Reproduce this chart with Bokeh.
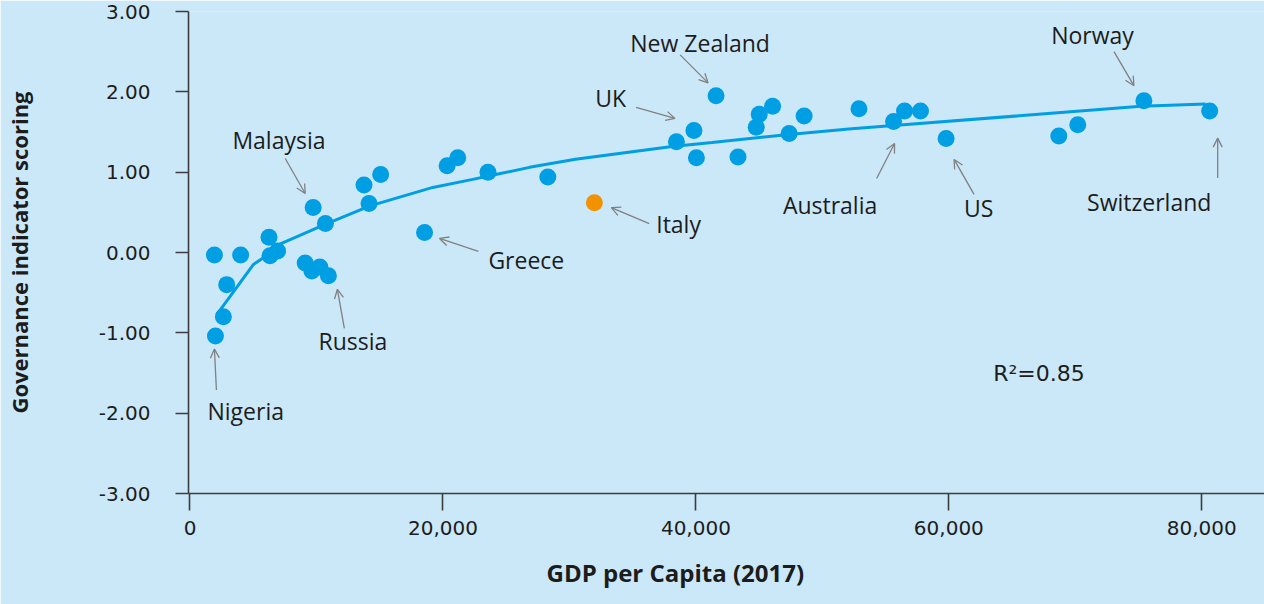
import numpy as np
from bokeh.plotting import figure
from bokeh.models import (Arrow, OpenHead, Label, NumeralTickFormatter, FixedTicker,
                          ColumnDataSource, Range1d, Title)
from bokeh.core.properties import value
from bokeh.embed import file_html
from bokeh.resources import INLINE

# ---------------- data ----------------
gdp = [1932, 4006, 2902, 2641, 2011, 6245, 6324, 6923, 9738, 10708,
       9107, 9635, 10266, 10944, 13759, 15076, 14154, 18546, 20328, 21171,
       23560, 28291, 31974, 38463, 39843, 40040, 41593, 43328, 44771, 45008,
       46064, 47373, 48556, 52893, 55629, 56496, 57758, 59784, 68694, 70192,
       75420, 80624]
gov = [-0.03, -0.03, -0.40, -0.80, -1.04, 0.19, -0.04, 0.02, 0.56, 0.36,
       -0.13, -0.23, -0.18, -0.29, 0.84, 0.97, 0.61, 0.25, 1.08, 1.18,
       1.00, 0.94, 0.62, 1.38, 1.52, 1.18, 1.95, 1.19, 1.56, 1.72,
       1.82, 1.48, 1.70, 1.79, 1.63, 1.76, 1.76, 1.42, 1.45, 1.59,
       1.89, 1.76]
names = ["", "", "", "", "Nigeria", "", "", "", "Malaysia", "",
         "", "", "", "Russia", "", "", "", "Greece", "", "",
         "", "", "Italy", "", "UK", "", "New Zealand", "", "", "",
         "", "", "", "", "Australia", "", "", "US", "", "",
         "Norway", "Switzerland"]

# fitted trend line vertices
trend_x = [2090, 5007, 5953, 7057, 10684, 14232, 19200, 22354, 24168, 26849,
           30476, 38124, 41278, 47349, 52317, 55629, 75183, 80309]
trend_y = [-0.78, -0.15, -0.05, 0.10, 0.35, 0.58, 0.81, 0.91, 0.97, 1.06,
           1.16, 1.32, 1.37, 1.47, 1.54, 1.58, 1.82, 1.85]

x_ticks = [0, 20000, 40000, 60000, 80000]
y_ticks = [-3, -2, -1, 0, 1, 2, 3]
r2_text = "R²=0.85"
x_title = "GDP per Capita (2017)"
y_title = "Governance indicator scoring"
highlight = "Italy"

# ---------------- layout / style ----------------
W, H = 1264, 604
BL, BT, BB, BR = 185, 11, 111, 0
X0, X1 = -118, 84957
Y0, Y1 = -3, 3
sx = (W - BL - BR) / (X1 - X0)
sy = (H - BT - BB) / (Y1 - Y0)

BG = "#cbe8f9"
BLUE = "#009ee2"
ORANGE = "#f39200"
GRAY = "#808080"
INK = "#1c1c1c"

# annotation offsets in pixels relative to the labelled point:
# name: (label dx, dy, arrow tail dx, dy, arrow head dx, dy)
ann = {
    "Nigeria":     (-8, 75, 1, 54, -1, 13),
    "Russia":      (-10, 65.5, 16, 52.5, 9, 13.5),
    "Malaysia":    (-81, -68, -28, -49, -8, -14),
    "Greece":      (64, 28, 54, 19, 15, 6),
    "Italy":       (62, 21, 55, 21, 17, 5),
    "UK":          (-99, -32, -58, -23, -19, -12),
    "New Zealand": (-86, -53, -36, -41, -8, -13),
    "Australia":   (-111, 83, -17, 57, 1, 22),
    "US":          (18, 69.5, 28, 56, 8, 21),
    "Norway":      (-93, -66, -30, -49, -10, -15),
    "Switzerland": (-123, 91, 8, 67, 8, 27),
}

p = figure(width=W, height=H, output_backend="svg", toolbar_location=None,
           x_range=Range1d(X0, X1), y_range=Range1d(Y0, Y1),
           min_border_left=BL, min_border_top=BT, min_border_bottom=BB,
           min_border_right=BR)
p.background_fill_color = BG
p.border_fill_color = BG
p.outline_line_color = None
p.grid.grid_line_color = None

for ax in (p.xaxis[0], p.yaxis[0]):
    ax.axis_line_color = "#3c3c3c"
    ax.axis_line_width = 1.6
    ax.major_tick_line_color = "#3c3c3c"
    ax.major_tick_line_width = 1.6
    ax.major_tick_in = 0
    ax.minor_tick_line_color = None
    ax.major_label_text_font = "DejaVu Sans"
    ax.major_label_text_font_size = "20px"
    ax.major_label_text_color = INK

p.xaxis.ticker = FixedTicker(ticks=x_ticks)
p.xaxis.formatter = NumeralTickFormatter(format="0,0")
p.xaxis.major_tick_out = 17
p.xaxis.major_label_standoff = 10

p.yaxis.ticker = FixedTicker(ticks=y_ticks)
p.yaxis.formatter = NumeralTickFormatter(format="0.00")
p.yaxis.major_tick_out = 13
p.yaxis.major_label_standoff = 25
p.yaxis.axis_label = y_title
p.yaxis.axis_label_text_font = "Open Sans"
p.yaxis.axis_label_text_font_style = "bold"
p.yaxis.axis_label_text_font_size = "22px"
p.yaxis.axis_label_text_color = INK
p.yaxis.axis_label_standoff = 62

p.add_layout(Title(text=x_title, align="left", offset=358, standoff=32,
                   text_font="Open Sans", text_font_style="bold",
                   text_font_size="24px", text_color=INK), "below")

# trend line and points
p.line(trend_x, trend_y, line_color=BLUE, line_width=3)
colors = [ORANGE if n == highlight else BLUE for n in names]
src = ColumnDataSource(dict(x=gdp, y=gov, c=colors))
p.scatter("x", "y", source=src, size=17, fill_color="c", line_color=None)

# annotations
lx, ly, lt = [], [], []
for i, n in enumerate(names):
    if not n:
        continue
    ldx, ldy, tdx, tdy, hdx, hdy = ann[n]
    lx.append(gdp[i] + ldx / sx)
    ly.append(gov[i] - ldy / sy)
    lt.append(n)
    p.add_layout(Arrow(end=OpenHead(size=9, line_color=GRAY, line_width=1.3),
                       x_start=gdp[i] + tdx / sx, y_start=gov[i] - tdy / sy,
                       x_end=gdp[i] + hdx / sx, y_end=gov[i] - hdy / sy,
                       line_color=GRAY, line_width=1.3))
p.text(lx, ly, text=lt, text_font=value("Open Sans"), text_font_size="23px",
       text_color=INK, text_align="left", text_baseline="middle")

# R squared
p.add_layout(Label(x=X0 + (992 - BL) / sx, y=Y1 - (373 - BT) / sy, text=r2_text,
                   text_font="DejaVu Sans", text_font_size="22px", text_color=INK,
                   text_align="left", text_baseline="middle"))

open("out.html", "w").write(file_html(p, INLINE))
